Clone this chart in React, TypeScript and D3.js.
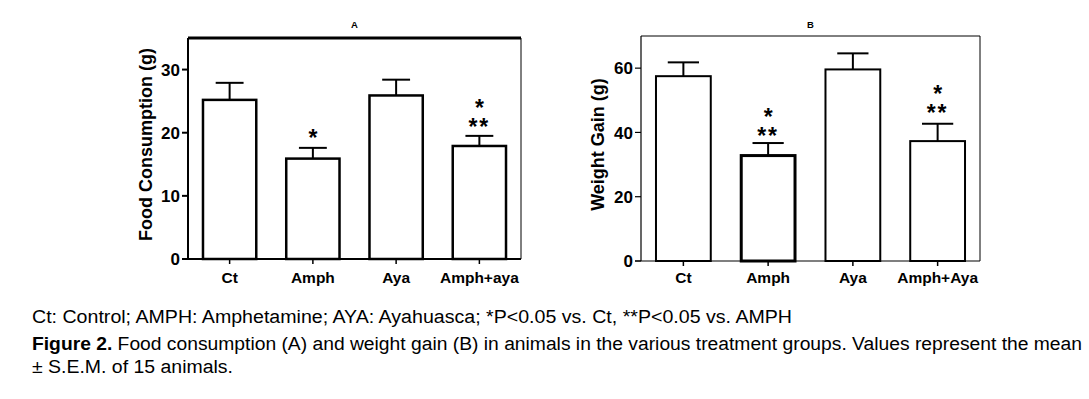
import React from "react";
import * as d3 from "d3";

const categoriesA = ["Ct", "Amph", "Aya", "Amph+aya"];
const foodMean = [25.2, 15.9, 25.9, 17.9];
const foodErr = [2.7, 1.7, 2.5, 1.6];
const starsA = [[], ["*"], [], ["*", "**"]];
const ticksA = [0, 10, 20, 30];

const categoriesB = ["Ct", "Amph", "Aya", "Amph+Aya"];
const weightMean = [57.5, 32.8, 59.6, 37.3];
const weightErr = [4.3, 3.9, 5.0, 5.4];
const starsB = [[], ["*", "**"], [], ["*", "**"]];
const ticksB = [0, 20, 40, 60];

const caption1 = "Ct: Control; AMPH: Amphetamine; AYA: Ayahuasca; *P<0.05 vs. Ct, **P<0.05 vs. AMPH";
const caption2Bold = "Figure 2.";
const caption2 = " Food consumption (A) and weight gain (B) in animals in the various treatment groups. Values represent the mean";
const caption3 = "± S.E.M. of 15 animals.";

const FONT = "'Liberation Sans', Arial, sans-serif";

type PanelProps = {
  cats: string[];
  means: number[];
  errs: number[];
  stars: string[][];
  ticks: number[];
  yMax: number;
  x0: number;
  x1: number;
  yTop: number;
  yBot: number;
  title: string;
  yLabel: string;
  labelX: number;
  barStroke: number;
  thickTop: boolean;
  capFrac: number;
  starGaps: number[];
};

function Panel(p: PanelProps) {
  const x = d3.scaleBand<string>().domain(p.cats).range([p.x0, p.x1]).paddingInner(0.33).paddingOuter(0.165);
  const y = d3.scaleLinear().domain([0, p.yMax]).range([p.yBot, p.yTop]);
  const bw = x.bandwidth();
  const midY = (p.yTop + p.yBot) / 2;
  return (
    <g>
      <text x={(p.x0 + p.x1) / 2} y={28} textAnchor="middle" fontFamily={FONT} fontWeight="bold" fontSize={9.5}>
        {p.title}
      </text>
      <line x1={p.x0} x2={p.x1} y1={p.yTop} y2={p.yTop} stroke="#000" strokeWidth={p.thickTop ? 3 : 1} />
      <line x1={p.x1} x2={p.x1} y1={p.yTop} y2={p.yBot} stroke="#000" strokeWidth={1} />
      <line x1={p.x0} x2={p.x0} y1={p.yTop} y2={p.yBot} stroke="#000" strokeWidth={p.thickTop ? 2 : 1.2} />
      <line x1={p.x0 - 6} x2={p.x1} y1={p.yBot} y2={p.yBot} stroke="#000" strokeWidth={p.thickTop ? 2 : 1.2} />
      {p.ticks.map((t) => (
        <g key={t}>
          <line x1={p.x0 - 6} x2={p.x0} y1={y(t)} y2={y(t)} stroke="#000" strokeWidth={p.thickTop ? 2 : 1.2} />
          <text x={p.x0 - 8} y={y(t)} dy="0.36em" textAnchor="end" fontFamily={FONT} fontWeight="bold" fontSize={17}>
            {t}
          </text>
        </g>
      ))}
      {p.cats.map((c, i) => {
        const cx = (x(c) as number) + bw / 2;
        const top = y(p.means[i]);
        const et = y(p.means[i] + p.errs[i]);
        const sw = p.barStroke + (p.thickTop ? 0 : i === 1 ? 1 : 0);
        const lines = p.stars[i];
        const n = lines.length;
        return (
          <g key={c}>
            <line x1={cx} x2={cx} y1={p.yBot} y2={p.yBot + 5} stroke="#000" strokeWidth={1.5} />
            <text x={cx} y={283} textAnchor="middle" fontFamily={FONT} fontWeight="bold" fontSize={15.5}>
              {c}
            </text>
            <line x1={cx} x2={cx} y1={top} y2={et} stroke="#000" strokeWidth={2} />
            <line x1={cx - bw * p.capFrac / 2} x2={cx + bw * p.capFrac / 2} y1={et} y2={et} stroke="#000" strokeWidth={2} />
            <rect x={(x(c) as number) + sw / 2} y={top} width={bw - sw} height={p.yBot - top} fill="#fff" stroke="#000" strokeWidth={sw} />
            {n > 0 && (
              <text textAnchor="middle" fontFamily={FONT} fontWeight="bold" fontSize={23}>
                {lines.map((s, k) => (
                  <tspan key={k} x={cx} y={et - p.starGaps[i] - (n - 1 - k) * 19 + 13} letterSpacing={s.length > 1 ? 2 : 0}>
                    {s}
                  </tspan>
                ))}
              </text>
            )}
          </g>
        );
      })}
      <text
        transform={`translate(${p.labelX},${midY - 4}) rotate(-90)`}
        textAnchor="middle"
        fontFamily={FONT}
        fontWeight="bold"
        fontSize={18}
      >
        {p.yLabel}
      </text>
    </g>
  );
}

export default function App() {
  return (
    <svg width={1089} height={399} style={{ position: "absolute", left: 0, top: 0, background: "#fff" }}>
      <rect width={1089} height={399} fill="#fff" />
      <Panel
        cats={categoriesA}
        means={foodMean}
        errs={foodErr}
        stars={starsA}
        ticks={ticksA}
        yMax={35}
        x0={188}
        x1={521}
        yTop={38}
        yBot={259}
        title="A"
        yLabel="Food Consumption (g)"
        labelX={152}
        barStroke={2.5}
        thickTop={true}
        capFrac={0.5}
        starGaps={[0, 15, 0, 14]}
      />
      <Panel
        cats={categoriesB}
        means={weightMean}
        errs={weightErr}
        stars={starsB}
        ticks={ticksB}
        yMax={70}
        x0={641}
        x1={980}
        yTop={36}
        yBot={261}
        title="B"
        yLabel="Weight Gain (g)"
        labelX={604}
        barStroke={2}
        thickTop={false}
        capFrac={0.55}
        starGaps={[0, 12, 0, 16]}
      />
      <text x={32} y={323} fontFamily={FONT} fontSize={18} textLength={760} lengthAdjust="spacingAndGlyphs">
        {caption1}
      </text>
      <text x={32} y={350} fontFamily={FONT} fontSize={18} textLength={1050} lengthAdjust="spacingAndGlyphs">
        <tspan fontWeight="bold">{caption2Bold}</tspan>
        {caption2}
      </text>
      <text x={32} y={373} fontFamily={FONT} fontSize={18} textLength={201} lengthAdjust="spacingAndGlyphs">
        {caption3}
      </text>
    </svg>
  );
}
